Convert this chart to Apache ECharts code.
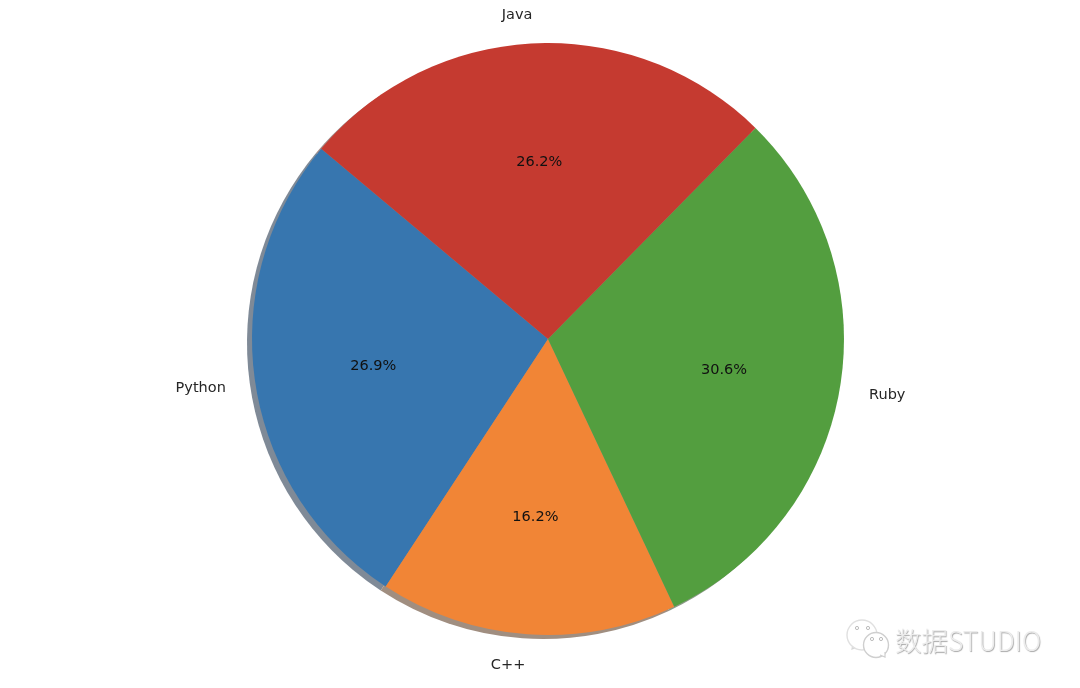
<!DOCTYPE html>
<html>
<head>
<meta charset="utf-8">
<style>html,body{margin:0;padding:0;background:#fff}#chart{width:1080px;height:688px}</style>
<script src="https://cdn.jsdelivr.net/npm/echarts@6/dist/echarts.min.js"></script>
</head>
<body>
<div id="chart"></div>
<script>
const categories = ['Python', 'C++', 'Ruby', 'Java'];
const sizes = [215, 130, 245, 210];
const percentLabels = ['26.9%', '16.2%', '30.6%', '26.2%'];
const sliceColors = ['#3776AF', '#F18536', '#539E3F', '#C53A30'];
const shadowColors = ['#7F8A97', '#A08E80', '#8C9A88', '#A08A88'];

const CX = 548, CY = 339, R = 296;
const font = '"DejaVu Sans", sans-serif';
const rows = categories.map((name, i) => ({ name, value: sizes[i] }));
const base = {
  type: 'pie', startAngle: 140, clockwise: false, silent: true,
  avoidLabelOverlap: false, animation: false, percentPrecision: 2
};
const nudgeInner = [[4, 1], [0, -2], [-2, 1], [0, 4]];

const chart = echarts.init(document.getElementById('chart'), null, { renderer: 'canvas' });
chart.setOption({
  backgroundColor: '#ffffff',
  animation: false,
  series: [
    Object.assign({}, base, {
      name: 'shadow', center: [CX - 5, CY + 4], radius: [0, R], z: 1,
      label: { show: false }, labelLine: { show: false },
      data: rows.map((d, i) => ({ ...d, itemStyle: { color: shadowColors[i] } }))
    }),
    Object.assign({}, base, {
      name: 'slices', center: [CX, CY], radius: [0, R], z: 2,
      label: {
        show: true, position: 'outside', formatter: '{b}',
        fontFamily: font, fontSize: 14.5, color: '#262626', distanceToLabelLine: 0
      },
      labelLine: { show: false, length: R * 0.1, length2: 0 },
      labelLayout: { dy: 1.5 },
      data: rows.map((d, i) => ({ ...d, itemStyle: { color: sliceColors[i], borderWidth: 0 } }))
    }),
    Object.assign({}, base, {
      name: 'percent', center: [CX, CY], radius: [R * 0.2, R], z: 3,
      label: {
        show: true, position: 'inside',
        formatter: p => percentLabels[p.dataIndex],
        fontFamily: font, fontSize: 14.5, color: '#111111'
      },
      labelLine: { show: false },
      labelLayout: p => ({ dx: nudgeInner[p.dataIndex][0], dy: nudgeInner[p.dataIndex][1] }),
      itemStyle: { color: 'rgba(0,0,0,0)' },
      data: rows
    })
  ],
  graphic: [
    { type: 'polyline', shape: { points: [[853, 644], [852, 649], [860, 646]] }, style: { fill: 'none', stroke: '#d8d8d8', lineWidth: 1.2 }, z: 10 },
    { type: 'circle', shape: { cx: 862, cy: 635, r: 15 }, style: { fill: '#fff', stroke: '#e0e0e0', lineWidth: 1.4 }, z: 10 },
    { type: 'circle', shape: { cx: 876, cy: 645, r: 12.5 }, style: { fill: '#fff', stroke: '#cfcfcf', lineWidth: 1.4 }, z: 11 },
    { type: 'polyline', shape: { points: [[880, 655], [885, 657], [885, 652]] }, style: { fill: '#fff', stroke: '#cfcfcf', lineWidth: 1.2 }, z: 11 },
    { type: 'circle', shape: { cx: 857, cy: 628, r: 1.6 }, style: { fill: '#fff', stroke: '#bdbdbd', lineWidth: 1 }, z: 12 },
    { type: 'circle', shape: { cx: 868, cy: 628, r: 1.6 }, style: { fill: '#fff', stroke: '#bdbdbd', lineWidth: 1 }, z: 12 },
    { type: 'circle', shape: { cx: 872, cy: 639, r: 1.6 }, style: { fill: '#fff', stroke: '#bdbdbd', lineWidth: 1 }, z: 12 },
    { type: 'circle', shape: { cx: 881, cy: 639, r: 1.6 }, style: { fill: '#fff', stroke: '#bdbdbd', lineWidth: 1 }, z: 12 },
    { type: 'text', x: 895, y: 641, z: 12, style: {
        text: '数据STUDIO', fill: '#ececec', font: '300 26.5px "Noto Sans CJK SC", sans-serif',
        verticalAlign: 'middle', textShadowColor: '#a6a6a6', textShadowBlur: 1, textShadowOffsetX: 0.7, textShadowOffsetY: 0.7
    } }
  ]
});
</script>
</body>
</html>
